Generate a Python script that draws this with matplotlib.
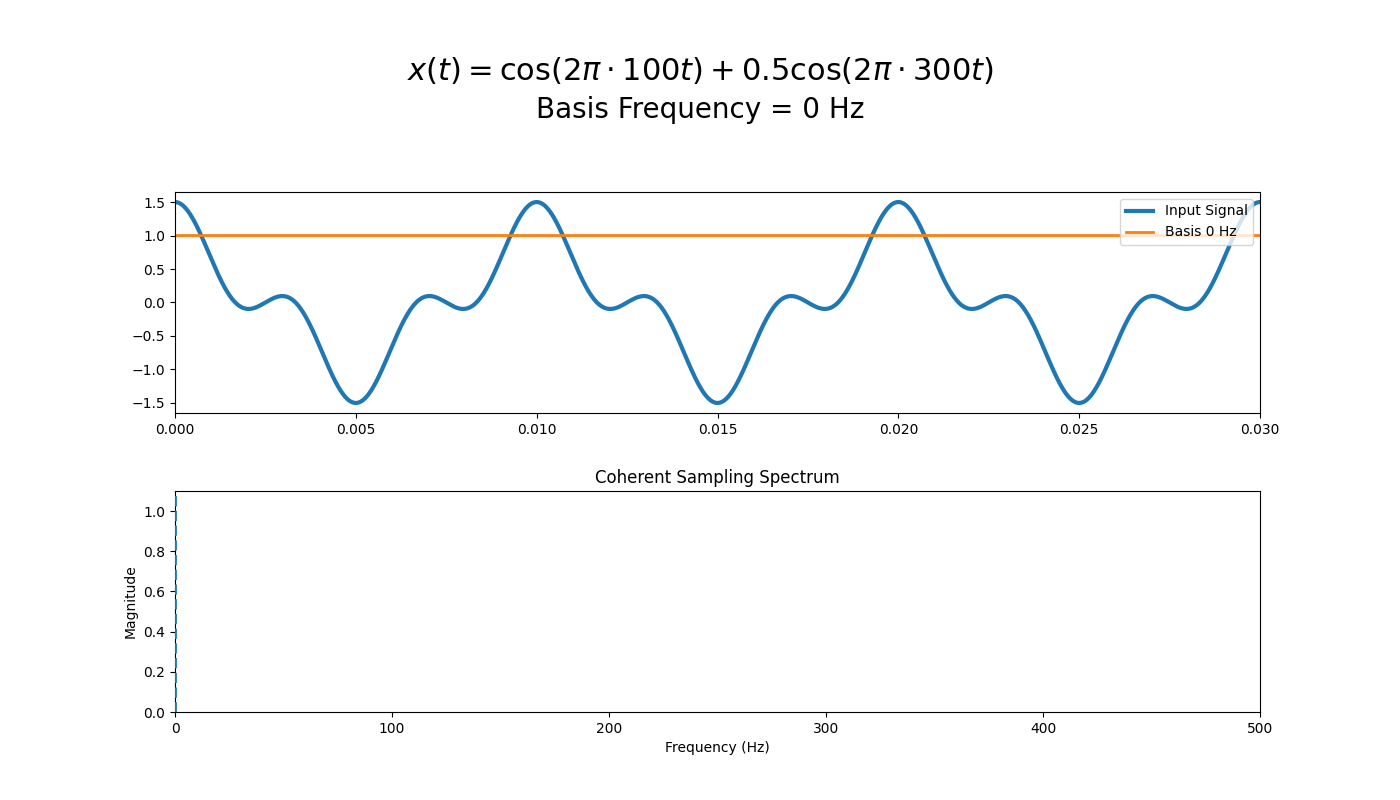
import matplotlib
matplotlib.use("Agg")
import matplotlib.pyplot as plt
import numpy as np

# signal components, as given in the title
comp_freqs = [100, 300]      # Hz
comp_amps = [1.0, 0.5]
basis_freq = 0               # Hz
basis_amp = 1.0

# time axis
t = np.linspace(0, 0.03, 3000)
x = sum(a * np.cos(2 * np.pi * f * t) for f, a in zip(comp_freqs, comp_amps))
basis = basis_amp * np.cos(2 * np.pi * basis_freq * t)

fig, (ax1, ax2) = plt.subplots(2, 1, figsize=(14, 8), dpi=100)
fig.subplots_adjust(left=0.125, right=0.9, top=0.76, bottom=0.11, hspace=0.353)

# two title lines
fig.text(0.5, 1 - 70 / 800, r"$x(t) = \cos(2\pi \cdot 100t) + 0.5\cos(2\pi \cdot 300t)$",
         ha="center", va="center", fontsize=22)
fig.text(0.5, 1 - 110 / 800, f"Basis Frequency = {basis_freq} Hz",
         ha="center", va="center", fontsize=20)

ax1.plot(t, x, color="#1f77b4", lw=3, label="Input Signal")
ax1.plot(t, basis, color="#ff7f0e", lw=2, label=f"Basis {basis_freq} Hz")
ax1.set_xlim(0, 0.03)
ax1.set_ylim(-1.65, 1.65)
ax1.legend(loc="upper right", fontsize=10)

ax2.axvline(basis_freq, color="#1f77b4", ls="--", lw=2, zorder=3)
ax2.set_xlim(0, 500)
ax2.set_ylim(0, 1.1)
ax2.set_title("Coherent Sampling Spectrum")
ax2.set_xlabel("Frequency (Hz)")
ax2.set_ylabel("Magnitude")

plt.savefig("out.png", dpi=100)
plt.close()
